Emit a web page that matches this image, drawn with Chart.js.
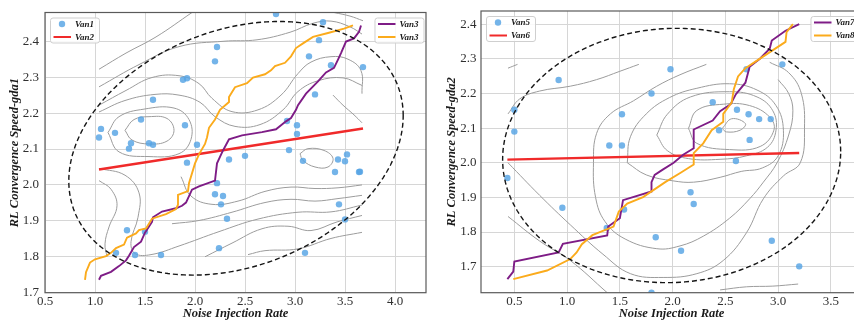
<!DOCTYPE html>
<html>
<head>
<meta charset="utf-8">
<script src="https://cdn.jsdelivr.net/npm/chart.js@4.4.1/dist/chart.umd.min.js"></script>
<style>
    html, body { margin: 0; padding: 0; background: #fff; overflow: hidden; width: 854px; height: 321px; }
    #wrapLeft { position: absolute; left: 0; top: 0; }
    #wrapRight { position: absolute; left: 430px; top: 0; }
</style>
</head>
<body>
<div id="wrapLeft"><canvas id="chartLeft" width="430" height="321"></canvas></div>
<div id="wrapRight"><canvas id="chartRight" width="444" height="321"></canvas></div>
<script>
// ---- tick labels ----
const xTicksLeft = [0.5, 1.0, 1.5, 2.0, 2.5, 3.0, 3.5, 4.0];
const xTicksRight = [0.5, 1.0, 1.5, 2.0, 2.5, 3.0, 3.5];
const yTicks = [1.7, 1.8, 1.9, 2.0, 2.1, 2.2, 2.3, 2.4];

// ---- left panel (gda1) ----
const van1X = [2.81, 3.28, 3.24, 2.22, 2.20, 3.14, 3.36, 3.68, 1.88, 1.92, 3.20, 1.58, 1.46, 1.90, 1.06, 1.04, 1.20, 1.36, 1.34, 1.54, 1.58, 2.02, 2.92, 3.02, 3.02, 2.94, 2.34, 2.50, 1.92, 3.08, 3.43, 3.52, 3.50, 3.40, 3.64, 3.65, 2.22, 2.20, 2.28, 2.26, 2.32, 3.44, 3.50, 2.24, 3.10, 1.32, 1.50, 1.21, 1.40, 1.66];
const van1Y = [2.476, 2.453, 2.403, 2.384, 2.344, 2.358, 2.333, 2.328, 2.293, 2.297, 2.252, 2.237, 2.182, 2.166, 2.156, 2.132, 2.145, 2.116, 2.101, 2.116, 2.112, 2.112, 2.178, 2.166, 2.142, 2.097, 2.071, 2.081, 2.062, 2.067, 2.071, 2.085, 2.066, 2.036, 2.036, 2.037, 2.005, 1.974, 1.969, 1.946, 1.906, 1.946, 1.904, 1.824, 1.811, 1.874, 1.870, 1.811, 1.805, 1.805];
const van2X = [1.04, 3.68];
const van2Y = [2.043, 2.157];
const van3aX = [1.04, 1.06, 1.16, 1.24, 1.31, 1.34, 1.39, 1.46, 1.50, 1.57, 1.58, 1.67, 1.81, 1.87, 1.91, 1.97, 2.04, 2.20, 2.22, 2.28, 2.34, 2.47, 2.67, 2.81, 2.91, 2.96, 3.01, 3.03, 3.11, 3.23, 3.31, 3.39, 3.43, 3.46, 3.51, 3.59, 3.64, 3.66];
const van3aY = [1.736, 1.747, 1.758, 1.774, 1.790, 1.803, 1.827, 1.842, 1.867, 1.897, 1.910, 1.926, 1.935, 1.942, 1.951, 1.987, 1.996, 2.012, 2.060, 2.096, 2.127, 2.138, 2.147, 2.155, 2.177, 2.186, 2.209, 2.222, 2.254, 2.288, 2.313, 2.326, 2.349, 2.367, 2.399, 2.408, 2.426, 2.444];
const van3bX = [0.90, 0.91, 0.95, 1.00, 1.11, 1.16, 1.21, 1.29, 1.32, 1.41, 1.44, 1.51, 1.57, 1.71, 1.81, 1.83, 1.83, 1.93, 1.94, 2.00, 2.04, 2.10, 2.12, 2.14, 2.20, 2.25, 2.34, 2.34, 2.40, 2.52, 2.58, 2.70, 2.76, 2.80, 2.90, 2.96, 3.01, 3.08, 3.18, 3.33, 3.49, 3.58];
const van3bY = [1.736, 1.757, 1.784, 1.793, 1.802, 1.811, 1.824, 1.834, 1.853, 1.865, 1.874, 1.879, 1.906, 1.919, 1.933, 1.945, 1.972, 1.983, 2.005, 2.060, 2.085, 2.114, 2.132, 2.159, 2.182, 2.209, 2.231, 2.245, 2.272, 2.283, 2.299, 2.308, 2.319, 2.331, 2.340, 2.358, 2.381, 2.394, 2.412, 2.423, 2.435, 2.444];
// confidence ellipse: centre x, centre y, x half-extent, y half-extent, phase
const ellipseLeft = [2.41, 2.102, 1.672, 0.353, 1.31];
// density contours [x, y]
const contoursLeft = [
    [[1.04, 2.322], [1.31, 2.367], [1.61, 2.412], [1.97, 2.48]],
    [[1.04, 2.273], [1.44, 2.335], [1.84, 2.385], [2.29, 2.40], [2.62, 2.404], [2.95, 2.425], [3.18, 2.45], [3.36, 2.456], [3.55, 2.44], [3.67, 2.42]],
    [[1.04, 2.222], [1.31, 2.263], [1.57, 2.299], [1.84, 2.304], [2.04, 2.282], [2.17, 2.241], [2.37, 2.204], [2.63, 2.209], [2.86, 2.25], [3.03, 2.31], [3.16, 2.342], [3.36, 2.357], [3.53, 2.35], [3.66, 2.318], [3.67, 2.254]],
    [[1.04, 2.203], [1.30, 2.235], [1.60, 2.252], [1.84, 2.25], [2.05, 2.23], [2.20, 2.19], [2.40, 2.163], [2.65, 2.168], [2.88, 2.209], [3.03, 2.26], [3.23, 2.29], [3.48, 2.298], [3.67, 2.277]],
    [[3.39, 2.48], [3.55, 2.47], [3.68, 2.457]],
    [[1.30, 2.152], [1.39, 2.182], [1.54, 2.19], [1.72, 2.185], [1.79, 2.152], [1.72, 2.122], [1.54, 2.114], [1.37, 2.125], [1.30, 2.152]],
    [[1.13, 2.146], [1.24, 2.19], [1.49, 2.211], [1.79, 2.214], [1.94, 2.182], [1.96, 2.127], [1.84, 2.087], [1.54, 2.079], [1.24, 2.092], [1.13, 2.146]],
    [[1.04, 2.012], [1.16, 1.988], [1.22, 1.942], [1.14, 1.883], [1.10, 1.836], [1.12, 1.80]],
    [[1.04, 2.046], [1.30, 2.027], [1.44, 1.978], [1.43, 1.91], [1.36, 1.842], [1.40, 1.809], [1.56, 1.806], [1.84, 1.83], [2.24, 1.87], [2.63, 1.905], [3.03, 1.924], [3.36, 1.925], [3.67, 1.944]],
    [[2.53, 1.806], [2.70, 1.817], [3.03, 1.822], [3.36, 1.851], [3.67, 1.868]],
    [[2.10, 1.80], [2.37, 1.838], [2.67, 1.878], [2.93, 1.885], [3.16, 1.873], [3.42, 1.897], [3.67, 1.915]],
    [[1.77, 1.892], [2.04, 1.901], [2.37, 1.924], [2.70, 1.951], [2.96, 1.96], [3.20, 1.955], [3.43, 1.962], [3.67, 1.971]],
    [[1.86, 2.023], [1.96, 1.969], [2.17, 1.946], [2.43, 1.955], [2.70, 1.982], [2.96, 1.994], [3.20, 1.99], [3.43, 1.992], [3.67, 2.0]],
    [[3.05, 2.087], [3.13, 2.101], [3.29, 2.096], [3.38, 2.074], [3.33, 2.05], [3.20, 2.05], [3.08, 2.068], [3.05, 2.087]],
    [[3.38, 2.25], [3.48, 2.222], [3.59, 2.195], [3.67, 2.173]]
];

// ---- right panel (gda2) ----
const van5X = [0.50, 0.50, 0.92, 1.98, 1.80, 1.52, 1.40, 1.52, 2.38, 2.61, 2.72, 2.82, 2.93, 2.44, 2.73, 3.04, 2.70, 2.60, 0.434, 0.955, 1.376, 1.54, 1.84, 2.17, 2.20, 2.08, 2.94, 3.20, 1.80];
const van5Y = [2.153, 2.090, 2.239, 2.270, 2.200, 2.140, 2.050, 2.050, 2.175, 2.153, 2.140, 2.126, 2.126, 2.094, 2.066, 2.284, 2.270, 2.005, 1.956, 1.870, 1.812, 1.865, 1.785, 1.915, 1.881, 1.746, 1.775, 1.701, 1.625];
const van6X = [0.434, 3.20];
const van6Y = [2.009, 2.028];
const van7X = [0.434, 0.49, 0.50, 0.92, 0.96, 1.38, 1.39, 1.50, 1.53, 1.80, 1.80, 1.83, 1.91, 2.01, 2.10, 2.20, 2.20, 2.38, 2.45, 2.55, 2.60, 2.69, 2.73, 2.83, 2.92, 2.94, 3.07, 3.20];
const van7Y = [1.664, 1.686, 1.715, 1.741, 1.766, 1.790, 1.816, 1.840, 1.892, 1.917, 1.944, 1.965, 1.981, 2.000, 2.023, 2.042, 2.096, 2.122, 2.149, 2.169, 2.198, 2.231, 2.277, 2.301, 2.329, 2.353, 2.381, 2.400];
const van8X = [0.49, 0.81, 1.03, 1.09, 1.14, 1.24, 1.44, 1.49, 1.57, 1.72, 1.93, 2.08, 2.20, 2.20, 2.29, 2.37, 2.48, 2.48, 2.56, 2.58, 2.62, 2.69, 2.81, 3.07, 3.08, 3.14];
const van8Y = [1.664, 1.689, 1.722, 1.741, 1.765, 1.791, 1.816, 1.859, 1.882, 1.901, 1.944, 1.972, 1.995, 2.028, 2.056, 2.094, 2.118, 2.141, 2.174, 2.212, 2.249, 2.273, 2.297, 2.349, 2.377, 2.400];
const ellipseRight = [1.991, 2.021, 1.602, 0.367, 1.54];
const contoursRight = [
    [[2.47, 2.099], [2.56, 2.127], [2.69, 2.113], [2.64, 2.094], [2.51, 2.089], [2.47, 2.099]],
    [[2.15, 2.099], [2.23, 2.151], [2.48, 2.169], [2.73, 2.165], [2.92, 2.132], [2.96, 2.094], [2.83, 2.047], [2.54, 2.038], [2.23, 2.056], [2.15, 2.099]],
    [[1.85, 2.08], [1.95, 2.14], [2.17, 2.19], [2.54, 2.205], [2.80, 2.19], [2.95, 2.15], [2.98, 2.094], [2.90, 2.045], [2.70, 2.02], [2.45, 2.01], [2.15, 2.012], [1.95, 2.035], [1.85, 2.08]],
    [[1.57, 2.0], [1.60, 2.075], [1.75, 2.141], [1.97, 2.188], [2.23, 2.215], [2.54, 2.228], [2.80, 2.21], [2.98, 2.165], [3.05, 2.094], [3.0, 2.02], [2.85, 1.985], [2.65, 1.975], [2.45, 1.958], [2.20, 1.944], [2.0, 1.948], [1.75, 1.965], [1.57, 2.0]],
    [[2.32, 2.284], [2.07, 2.254], [1.85, 2.221], [1.63, 2.179], [1.41, 2.141], [1.28, 2.085], [1.25, 2.0], [1.27, 1.90], [1.36, 1.83], [1.55, 1.78], [1.85, 1.752], [2.07, 1.76], [2.29, 1.788], [2.54, 1.84], [2.73, 1.896], [2.86, 1.944], [2.99, 2.0], [3.10, 2.08], [3.14, 2.15], [3.10, 2.20], [3.0, 2.24]],
    [[0.44, 2.0], [0.74, 1.906], [1.03, 1.821], [1.34, 1.736], [1.60, 1.68], [1.91, 1.669], [2.23, 1.68], [2.48, 1.718], [2.70, 1.798], [2.86, 1.896], [3.05, 1.962], [3.21, 2.0], [3.25, 2.10], [3.22, 2.20], [3.10, 2.26], [2.92, 2.29]],
    [[0.44, 2.141], [0.55, 2.184], [0.74, 2.207], [1.03, 2.221], [1.28, 2.24], [1.50, 2.264], [1.68, 2.284]],
    [[0.44, 2.273], [0.53, 2.284]],
    [[0.44, 1.845], [0.74, 1.774], [1.03, 1.718], [1.38, 1.625]],
    [[2.45, 1.633], [2.70, 1.642], [2.95, 1.644], [3.19, 1.65]]
];

const serif = '"Liberation Serif", "Times New Roman", serif';
Chart.defaults.font.family = serif;

function pts(xs, ys) {
    return xs.map((x, i) => ({ x: x, y: ys[i] }));
}

function scatterSet(label, xs, ys) {
    return { label: label, data: pts(xs, ys), showLine: false, pointRadius: 3.2, pointBorderWidth: 0,
             backgroundColor: 'rgba(86,163,228,0.82)', borderColor: 'rgba(86,163,228,0.82)', order: 5 };
}

function lineSet(label, xs, ys, color, width, order) {
    return { label: label, data: pts(xs, ys), showLine: true, pointRadius: 0, borderColor: color,
             backgroundColor: color, borderWidth: width, tension: 0, order: order };
}

function contourSets(list) {
    return list.map(c => ({ label: '', data: c.map(p => ({ x: p[0], y: p[1] })), showLine: true, pointRadius: 0,
             borderColor: '#9c9c9c', borderWidth: 1, tension: 0.4, order: 10 }));
}

// plot frame (all four spines)
const framePlugin = {
    id: 'frame',
    afterDraw(chart) {
        const a = chart.chartArea, ctx = chart.ctx;
        ctx.save();
        ctx.strokeStyle = '#5a5a5a';
        ctx.lineWidth = 1.2;
        ctx.strokeRect(a.left, a.top, a.right - a.left, a.bottom - a.top);
        ctx.restore();
    }
};

// dashed ellipse drawn through the scales
const ellipsePlugin = {
    id: 'ellipse',
    afterDatasetsDraw(chart, args, opts) {
        const [cx, cy, rx, ry, ph] = opts.e;
        const xs = chart.scales.x, ys = chart.scales.y, ctx = chart.ctx, a = chart.chartArea;
        ctx.save();
        ctx.beginPath();
        ctx.rect(a.left, a.top, a.right - a.left, a.bottom - a.top);
        ctx.clip();
        ctx.beginPath();
        for (let i = 0; i <= 240; i++) {
            const t = i / 240 * Math.PI * 2;
            const px = xs.getPixelForValue(cx + rx * Math.cos(t));
            const py = ys.getPixelForValue(cy + ry * Math.cos(t - ph));
            if (i === 0) ctx.moveTo(px, py); else ctx.lineTo(px, py);
        }
        ctx.closePath();
        ctx.setLineDash([5, 3]);
        ctx.strokeStyle = '#151515';
        ctx.lineWidth = 1.4;
        ctx.stroke();
        ctx.restore();
    }
};

// two legend boxes per panel
const twoLegends = {
    id: 'twoLegends',
    afterDraw(chart, args, opts) {
        const ctx = chart.ctx, a = chart.chartArea;
        ctx.save();
        ctx.font = 'italic bold 9px ' + serif;
        opts.boxes.forEach(b => {
            const sets = b.items.map(i => chart.data.datasets[i]);
            const tw = Math.max(...sets.map(d => ctx.measureText(d.label).width));
            const w = 25 + tw + 5, h = 25;
            const x = b.side === 'left' ? a.left + 5 : a.right - b.inset - w;
            const y = a.top + 5;
            ctx.fillStyle = 'rgba(255,255,255,0.85)';
            ctx.strokeStyle = '#cfcfcf';
            ctx.lineWidth = 1;
            ctx.beginPath();
            ctx.roundRect(x + 0.5, y + 0.5, w, h, 2.5);
            ctx.fill();
            ctx.stroke();
            sets.forEach((d, k) => {
                const cy = y + 6.5 + k * 13;
                if (d.showLine) {
                    ctx.strokeStyle = d.borderColor;
                    ctx.lineWidth = 2;
                    ctx.beginPath();
                    ctx.moveTo(x + 3.5, cy);
                    ctx.lineTo(x + 21, cy);
                    ctx.stroke();
                } else {
                    ctx.fillStyle = d.backgroundColor;
                    ctx.beginPath();
                    ctx.arc(x + 12, cy, 3.2, 0, Math.PI * 2);
                    ctx.fill();
                }
                ctx.fillStyle = '#1a1a1a';
                ctx.textBaseline = 'middle';
                ctx.fillText(d.label, x + 25, cy + 0.5);
            });
        });
        ctx.restore();
    }
};

function buildChart(id, o) {
    return new Chart(document.getElementById(id), {
        type: 'scatter',
        data: { datasets: o.datasets },
        options: {
            responsive: false,
            animation: false,
            events: [],
            layout: { padding: { left: 0, top: 5, right: o.padRight, bottom: 0 } },
            plugins: {
                legend: { display: false },
                tooltip: { enabled: false },
                twoLegends: { boxes: o.boxes },
                ellipse: { e: o.ellipse }
            },
            scales: {
                x: {
                    type: 'linear', min: o.xRange[0], max: o.xRange[1],
                    afterBuildTicks: s => { s.ticks = o.xTicks.map(v => ({ value: v })); },
                    afterFit: s => { s.height = 28.3; },
                    grid: { color: '#d6d6d6', lineWidth: 1, drawTicks: false },
                    border: { display: false },
                    ticks: { color: '#303030', padding: 2, maxRotation: 0, autoSkip: false,
                             font: { size: 13, lineHeight: 1 }, callback: v => Number(v).toFixed(1) },
                    title: { display: true, text: 'Noise Injection Rate', color: '#1a1a1a',
                             font: { size: 12.5, weight: 'bold', style: 'italic', lineHeight: 1 },
                             padding: { top: 0, bottom: 0.75 } }
                },
                y: {
                    type: 'linear', min: o.yRange[0], max: o.yRange[1],
                    afterBuildTicks: s => { s.ticks = yTicks.map(v => ({ value: v })); },
                    afterFit: s => { s.width = o.yWidth; },
                    grid: { color: '#d6d6d6', lineWidth: 1, drawTicks: false },
                    border: { display: false },
                    ticks: { color: '#303030', padding: o.yTickPad, autoSkip: false,
                             font: { size: 13, lineHeight: 1 }, callback: v => Number(v).toFixed(1) },
                    title: { display: true, text: o.yTitle, color: '#1a1a1a',
                             font: { size: 12.5, weight: 'bold', style: 'italic', lineHeight: 1 },
                             padding: { top: o.yTitlePad, bottom: 0 } }
                }
            }
        },
        plugins: [framePlugin, ellipsePlugin, twoLegends]
    });
}

buildChart('chartLeft', {
    datasets: [
        scatterSet('Van1', van1X, van1Y),
        lineSet('Van2', van2X, van2Y, '#f02a2a', 2.4, 4),
        lineSet('Van3', van3aX, van3aY, '#7e1c86', 1.9, 3),
        lineSet('Van3', van3bX, van3bY, '#fbab1c', 1.9, 2)
    ].concat(contourSets(contoursLeft)),
    boxes: [{ side: 'left', items: [0, 1] }, { side: 'right', items: [2, 3], inset: 2.5 }],
    ellipse: ellipseLeft,
    xRange: [0.5, 4.31], yRange: [1.7, 2.48], xTicks: xTicksLeft,
    padRight: 1, yWidth: 45, yTickPad: 6, yTitlePad: 8.75,
    yTitle: 'RL Convergence Speed-gda1'
});

buildChart('chartRight', {
    datasets: [
        scatterSet('Van5', van5X, van5Y),
        lineSet('Van6', van6X, van6Y, '#f02a2a', 2.4, 4),
        lineSet('Van7', van7X, van7Y, '#7e1c86', 1.9, 3),
        lineSet('Van8', van8X, van8Y, '#fbab1c', 1.9, 2)
    ].concat(contourSets(contoursRight)),
    boxes: [{ side: 'left', items: [0, 1] }, { side: 'right', items: [2, 3], inset: 2.5 }],
    ellipse: ellipseRight,
    xRange: [0.184, 3.795], yRange: [1.625, 2.438], xTicks: xTicksRight,
    padRight: 12, yWidth: 51, yTickPad: 4.5, yTitlePad: 15.4,
    yTitle: 'RL Convergence Speed-gda2'
});
</script>
</body>
</html>
